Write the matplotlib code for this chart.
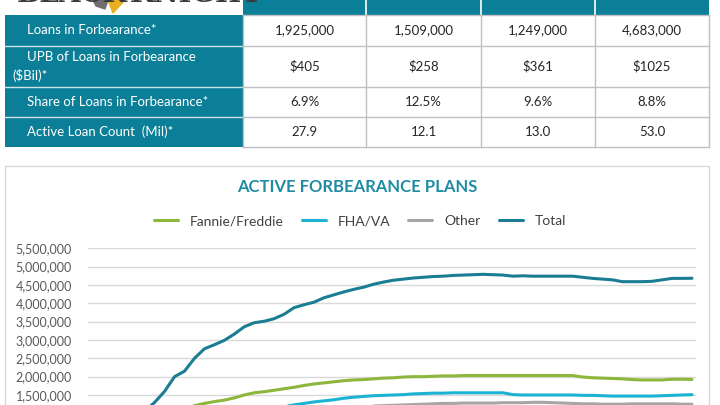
import matplotlib
matplotlib.use("Agg")
import matplotlib.pyplot as plt
from matplotlib.patches import Rectangle, Polygon

plt.rcParams['font.family'] = ['Lato', 'DejaVu Sans']

# ---- table data ----
row_labels = ['Loans in Forbearance*', 'UPB of Loans in Forbearance\n($Bil)*',
              'Share of Loans in Forbearance*', 'Active Loan Count  (Mil)*']
table_values = [
    ['1,925,000', '1,509,000', '1,249,000', '4,683,000'],
    ['$405', '$258', '$361', '$1025'],
    ['6.9%', '12.5%', '9.6%', '8.8%'],
    ['27.9', '12.1', '13.0', '53.0'],
]

# ---- chart data (daily, millions) ----
fannie_freddie = [0.03, 0.06, 0.15, 0.28, 0.42, 0.55, 0.68, 0.82, 0.98, 1.08,
                  1.21, 1.27, 1.32, 1.36, 1.42, 1.50, 1.56, 1.59, 1.63, 1.67,
                  1.71, 1.76, 1.80, 1.83, 1.86, 1.89, 1.91, 1.92, 1.94, 1.96,
                  1.97, 1.99, 2.00, 2.00, 2.01, 2.02, 2.02, 2.03, 2.03, 2.03,
                  2.03, 2.03, 2.03, 2.03, 2.03, 2.03, 2.03, 2.03, 2.03, 1.99,
                  1.97, 1.96, 1.95, 1.94, 1.92, 1.91, 1.91, 1.91, 1.93, 1.93,
                  1.925]
fha_va = [0.01, 0.02, 0.05, 0.10, 0.17, 0.25, 0.33, 0.42, 0.52, 0.60,
          0.70, 0.78, 0.84, 0.89, 0.94, 1.00, 1.04, 1.08, 1.13, 1.18,
          1.23, 1.27, 1.31, 1.34, 1.37, 1.41, 1.44, 1.46, 1.48, 1.49,
          1.50, 1.51, 1.53, 1.54, 1.55, 1.55, 1.56, 1.56, 1.56, 1.56,
          1.56, 1.56, 1.51, 1.50, 1.50, 1.50, 1.50, 1.50, 1.50, 1.49,
          1.49, 1.48, 1.47, 1.47, 1.47, 1.47, 1.47, 1.48, 1.49, 1.50,
          1.509]
other = [0.01, 0.03, 0.07, 0.12, 0.20, 0.27, 0.35, 0.42, 0.50, 0.56,
         0.60, 0.68, 0.72, 0.76, 0.82, 0.86, 0.90, 0.93, 0.96, 0.99,
         1.02, 1.05, 1.08, 1.10, 1.12, 1.14, 1.16, 1.18, 1.20, 1.21,
         1.22, 1.23, 1.24, 1.25, 1.26, 1.27, 1.27, 1.28, 1.28, 1.28,
         1.28, 1.29, 1.29, 1.29, 1.30, 1.30, 1.29, 1.28, 1.27, 1.26,
         1.26, 1.25, 1.25, 1.25, 1.26, 1.26, 1.26, 1.26, 1.26, 1.25,
         1.249]
total = [0.05, 0.10, 0.25, 0.50, 0.80, 1.05, 1.30, 1.60, 2.00, 2.15,
         2.50, 2.76, 2.87, 2.99, 3.16, 3.36, 3.47, 3.51, 3.58, 3.70,
         3.88, 3.96, 4.03, 4.15, 4.23, 4.31, 4.38, 4.44, 4.52, 4.58,
         4.63, 4.66, 4.69, 4.71, 4.73, 4.74, 4.76, 4.77, 4.78, 4.79,
         4.78, 4.77, 4.74, 4.75, 4.74, 4.74, 4.74, 4.74, 4.74, 4.71,
         4.68, 4.66, 4.64, 4.59, 4.59, 4.59, 4.60, 4.64, 4.68, 4.68,
         4.683]
series = [('Fannie/Freddie', fannie_freddie, '#8CB63C'),
          ('FHA/VA', fha_va, '#1BB3D3'),
          ('Other', other, '#A6A6A6'),
          ('Total', total, '#1A7D93')]

TEAL = '#0B7F97'
W, H = 720, 405

fig = plt.figure(figsize=(7.2, 4.05), dpi=100)

# background layer in pixel coordinates
bg = fig.add_axes([0, 0, 1, 1])
bg.set_xlim(0, W)
bg.set_ylim(H, 0)
bg.axis('off')

# logo (mostly cut off at the top)
bg.text(17, 1.5, 'BLACK', fontsize=20, fontweight='bold', family='DejaVu Serif',
        color='#3A3A3A', va='baseline')
bg.text(130, 1.5, 'KNIGHT', fontsize=20, fontweight='bold', family='DejaVu Serif',
        color='#3A3A3A', va='baseline')
bg.add_patch(Polygon([[93, 0], [108, 0], [105, 9], [96, 6]], color='#6E6E6E'))
bg.add_patch(Polygon([[108, 0], [125, 0], [113, 13]], color='#E8B020'))

# table
col_edges = [243, 366, 481, 595, 709]
row_edges = [15, 45.5, 86.5, 116.5, 147]
bg.add_patch(Rectangle((243, 0), 709 - 243, 15, color=TEAL, lw=0))
for x in col_edges[1:-1]:
    bg.plot([x, x], [0, 15], color='white', lw=1.2)
bg.add_patch(Rectangle((5, 15), 243 - 5, 147 - 15, color=TEAL, lw=0))
for y in row_edges[1:-1]:
    bg.plot([5, 243], [y, y], color='#CFE3EA', lw=1)
for y in row_edges:
    bg.plot([243, 709], [y, y], color='#C0C0C0', lw=1)
for x in col_edges:
    bg.plot([x, x], [15, 147], color='#C0C0C0', lw=1)

for r, label in enumerate(row_labels):
    yc = (row_edges[r] + row_edges[r + 1]) / 2
    lines = label.split('\n')
    if len(lines) == 1:
        bg.text(27, yc, label, color='white', fontsize=9.5, va='center')
    else:
        bg.text(27, yc - 9, lines[0], color='white', fontsize=9.5, va='center')
        bg.text(12, yc + 9, lines[1], color='white', fontsize=9.5, va='center')
    for c, val in enumerate(table_values[r]):
        xc = (col_edges[c] + col_edges[c + 1]) / 2
        bg.text(xc, yc, val, color='#262626', fontsize=9.5, ha='center', va='center')

# chart border
bg.add_patch(Rectangle((5, 166), 709 - 5, 300, fill=False, ec='#D9D9D9', lw=1))
bg.text(357, 187, 'ACTIVE FORBEARANCE PLANS', color='#1F8CA3', fontsize=12,
        fontweight='bold', ha='center', va='center')

# chart axes (bottom part falls outside the picture)
y0 = 450.0       # pixel row of value 0
ytop = 248.3     # pixel row of 5.5M
ax = fig.add_axes([88 / W, (H - y0) / H, (696 - 88) / W, (y0 - ytop) / H])
ax.set_facecolor('none')
x = list(range(len(total)))
for name, vals, col in series:
    ax.plot(x, [v * 1e6 for v in vals], color=col, lw=2.2, label=name,
            solid_capstyle='round')
ax.set_xlim(-0.7, 60.4)
ax.set_ylim(0, 5.5e6)
ticks = [i * 500000 for i in range(3, 12)]
ax.set_yticks(ticks)
ax.set_yticklabels([f'{t:,}' for t in ticks])
ax.tick_params(axis='y', length=0, pad=11.5, labelsize=9, labelcolor='#595959')
ax.set_xticks([])
ax.grid(axis='y', color='#D9D9D9', lw=1)
ax.set_axisbelow(True)
for s in ax.spines.values():
    s.set_visible(False)

fig.legend(loc='center', bbox_to_anchor=(360 / W, (H - 221) / H), ncol=4,
           frameon=False, fontsize=10, handlelength=1.73, handletextpad=0.86,
           columnspacing=1.3, labelcolor='#404040')

fig.savefig('out.png', dpi=100)
